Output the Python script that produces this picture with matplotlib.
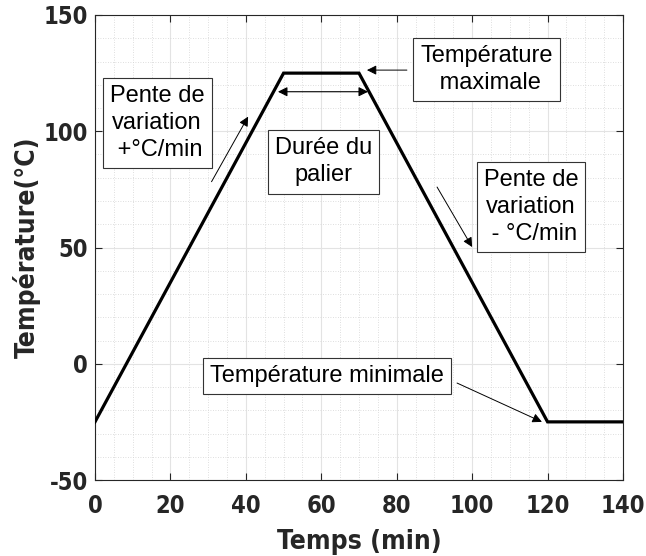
import matplotlib.pyplot as plt
from matplotlib.ticker import MultipleLocator

# profile (min, °C)
temps = [0, 50, 70, 120, 140]
temperature = [-25, 125, 125, -25, -25]

x_ticks = [0, 20, 40, 60, 80, 100, 120, 140]
y_ticks = [-50, 0, 50, 100, 150]

plt.rcParams['font.family'] = ['Liberation Sans', 'DejaVu Sans']
plt.rcParams['axes.unicode_minus'] = False
dark = '#262626'
bold_cond = dict(family='DejaVu Sans', fontstretch='condensed', fontweight='bold')

fig = plt.figure(figsize=(6.46, 5.56), dpi=100)
ax = fig.add_axes([95 / 646, 76 / 556, 528 / 646, 465 / 556])

ax.plot(temps, temperature, color='black', linewidth=2.3, solid_joinstyle='miter', zorder=3)

ax.set_xlim(0, 140)
ax.set_ylim(-50, 150)
ax.set_xticks(x_ticks)
ax.set_yticks(y_ticks)
ax.xaxis.set_minor_locator(MultipleLocator(5))
ax.yaxis.set_minor_locator(MultipleLocator(10))
ax.grid(True, which='major', color='#e3e3e3', linewidth=0.8)
ax.grid(True, which='minor', color='#d4d4d4', linewidth=0.6, linestyle=(0, (1, 2)))
ax.set_axisbelow(True)
ax.tick_params(which='major', direction='in', length=5, width=0.8, colors=dark,
               top=True, right=True, labelsize=17)
ax.tick_params(axis='x', pad=10)
ax.tick_params(axis='y', pad=5)
ax.tick_params(which='minor', length=0)
for lab in ax.get_xticklabels() + ax.get_yticklabels():
    lab.set_family('DejaVu Sans')
    lab.set_fontstretch('condensed')
    lab.set_fontweight('bold')
for s in ax.spines.values():
    s.set_color(dark)
    s.set_linewidth(0.8)

ax.set_xlabel('Temps (min)', fontsize=19, color=dark, labelpad=8, **bold_cond)
ax.set_ylabel('Température(°C)', fontsize=19, color=dark, labelpad=2, **bold_cond)

box = dict(boxstyle='square,pad=0.3', facecolor='white', edgecolor='#333333', linewidth=0.8)
arrow = dict(arrowstyle='-|>', color='black', lw=0.7, mutation_scale=14, shrinkA=0, shrinkB=0)
fs = 17
ls = 1.3

ax.text(16.5, 103.5, 'Pente de\nvariation\n +°C/min', fontsize=fs, linespacing=ls,
        ha='center', va='center', bbox=box, zorder=5)
ax.annotate('', xy=(40.6, 106.3), xytext=(30.9, 78.3), arrowprops=arrow, zorder=4)

ax.annotate('', xy=(48.5, 117), xytext=(72.4, 117),
            arrowprops=dict(arrowstyle='<|-|>', color='black', lw=0.8, mutation_scale=14,
                            shrinkA=0, shrinkB=0), zorder=4)
ax.text(60.6, 86.8, 'Durée du\npalier', fontsize=fs, linespacing=ls,
        ha='center', va='center', bbox=box, zorder=5)

ax.text(103.8, 126.6, 'Température\n maximale', fontsize=fs, linespacing=ls,
        ha='center', va='center', bbox=box, zorder=5)
ax.annotate('', xy=(72.1, 126.3), xytext=(82.7, 126.3), arrowprops=arrow, zorder=4)

ax.text(115.6, 67.4, 'Pente de\nvariation\n - °C/min', fontsize=fs, linespacing=ls,
        ha='center', va='center', bbox=box, zorder=5)
ax.annotate('', xy=(100, 50.2), xytext=(90.7, 76), arrowprops=arrow, zorder=4)

ax.text(61.6, -5.3, 'Température minimale', fontsize=fs,
        ha='center', va='center', bbox=box, zorder=5)
ax.annotate('', xy=(118.5, -25), xytext=(96, -8.3), arrowprops=arrow, zorder=4)

fig.savefig('out.png', dpi=100)
